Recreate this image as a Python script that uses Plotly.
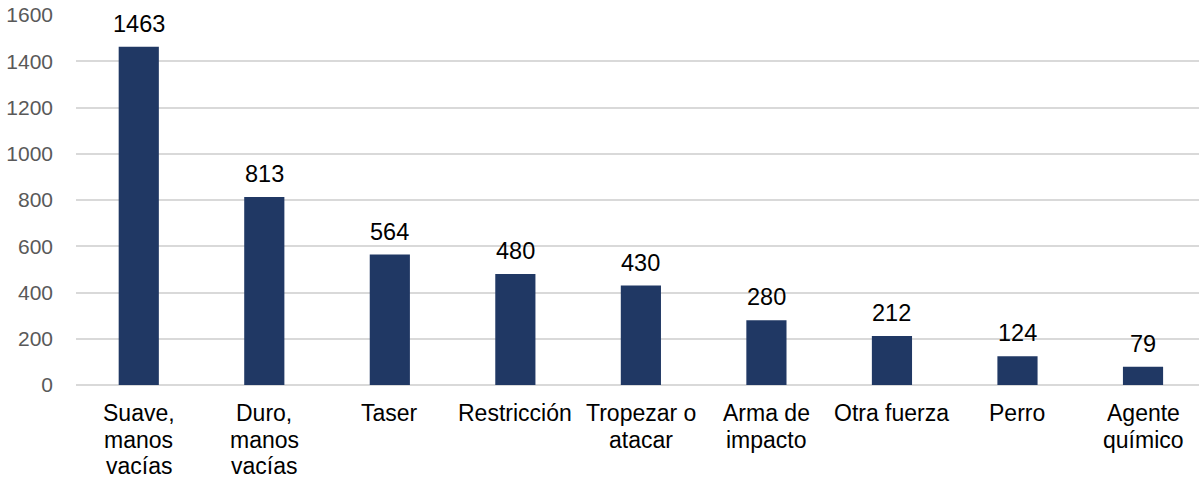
import plotly.graph_objects as go

categories = ["Suave,<br>manos<br>vacías", "Duro,<br>manos<br>vacías", "Taser", "Restricción",
              "Tropezar o<br>atacar", "Arma de<br>impacto", "Otra fuerza", "Perro", "Agente<br>químico"]
values = [1463, 813, 564, 480, 430, 280, 212, 124, 79]
y_ticks = [0, 200, 400, 600, 800, 1000, 1200, 1400, 1600]

FONT = "Liberation Sans, Arial, sans-serif"

fig = go.Figure()
fig.add_trace(go.Bar(
    x=categories, y=values, width=0.32,
    marker=dict(color="#203864", line=dict(width=0)),
    hoverinfo="y",
))

# value labels above bars
for c, v in zip(categories, values):
    fig.add_annotation(x=c, y=v, text=str(v), showarrow=False, yanchor="bottom",
                       yshift=8, font=dict(family=FONT, size=23.5, color="#000000"))

# category labels (one annotation per line for tighter line spacing)
LINE_H = 26.6
for c in categories:
    for i, line in enumerate(c.split("<br>")):
        fig.add_annotation(x=c, y=0, text=line, showarrow=False, yanchor="top",
                           yshift=-(13 + i * LINE_H),
                           font=dict(family=FONT, size=23, color="#000000"))

fig.update_layout(
    width=1199, height=479,
    margin=dict(l=76, r=0, t=15, b=94),
    plot_bgcolor="white", paper_bgcolor="white",
    showlegend=False,
    font=dict(family=FONT),
    bargap=0.68,
)
fig.update_xaxes(
    type="category", range=[-0.5, 8.446], automargin=False,
    showgrid=False, showline=False, ticks="", showticklabels=False,
)
fig.update_yaxes(
    range=[0, 1600], tickvals=y_ticks, automargin=False,
    showgrid=True, gridcolor="#D9D9D9", gridwidth=1.5,
    zeroline=True, zerolinecolor="#D9D9D9", zerolinewidth=1.5,
    showline=False, ticks="",
    tickfont=dict(family=FONT, size=21, color="#595959"),
    ticklabelstandoff=22,
)

fig.write_html("out.html", config={"displayModeBar": False},
               post_script="document.body.style.margin='0';")
